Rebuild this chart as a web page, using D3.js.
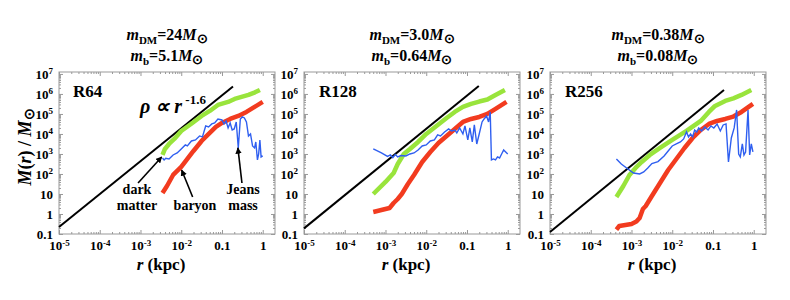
<!DOCTYPE html>
<html>
<head>
<meta charset="utf-8">
<script src="https://cdn.jsdelivr.net/npm/d3@7"></script>
<style>
  body { margin: 0; background: #fff; }
</style>
</head>
<body>
<svg width="790" height="300"></svg>
<script>
// all series are [log10 r (kpc), log10 M (Msun)]
const runNames = ["R64", "R128", "R256"];
const dmMass = ["24", "3.0", "0.38"];
const bMass = ["5.1", "0.64", "0.08"];

const rTicks = [1e-5, 1e-4, 1e-3, 1e-2, 0.1, 1];
const rTickLabels = [["10", "-5"], ["10", "-4"], ["10", "-3"], ["10", "-2"], ["0.1", ""], ["1", ""]];
const mTicks = [0.1, 1, 10, 1e2, 1e3, 1e4, 1e5, 1e6, 1e7];
const mTickLabels = [["0.1", ""], ["1", ""], ["10", ""], ["10", "2"], ["10", "3"], ["10", "4"], ["10", "5"], ["10", "6"], ["10", "7"]];

const powerLaw = [
  [[-5, -0.65], [-0.73, 6.37]],
  [[-5, -0.72], [-0.71, 6.4]],
  [[-5, -0.9], [-0.73, 6.2]]
];

const darkMatter = [
  [[-2.46, 2.95], [-2.40, 3.25], [-2.3, 3.5], [-2.17, 3.75], [-2.0, 4.15], [-1.76, 4.5], [-1.5, 4.9],
   [-1.3, 5.15], [-1.1, 5.45], [-0.85, 5.6], [-0.69, 5.75], [-0.52, 5.85], [-0.35, 5.95], [-0.19, 6.08], [-0.07, 6.2]],
  [[-3.30, 1.0], [-3.0, 1.6], [-2.8, 2.05], [-2.7, 2.5], [-2.55, 3.0], [-2.4, 3.25], [-2.2, 3.6], [-2.0, 4.0],
   [-1.75, 4.4], [-1.5, 4.8], [-1.3, 5.1], [-1.1, 5.35], [-0.9, 5.5], [-0.7, 5.62], [-0.5, 5.72], [-0.3, 5.95], [-0.07, 6.2]],
  [[-3.37, 0.85], [-3.2, 1.4], [-3.05, 1.95], [-2.9, 2.3], [-2.75, 2.6], [-2.55, 2.95], [-2.3, 3.3], [-2.0, 3.7],
   [-1.65, 4.15], [-1.3, 4.65], [-1.1, 5.1], [-0.95, 5.4], [-0.7, 5.65], [-0.5, 5.78], [-0.3, 5.95], [-0.06, 6.2]]
];

const baryon = [
  [[-2.46, 1.05], [-2.35, 1.4], [-2.2, 1.95], [-2.0, 2.35], [-1.85, 2.75], [-1.7, 3.15], [-1.5, 3.65], [-1.3, 4.05],
   [-1.15, 4.35], [-1.0, 4.55], [-0.8, 4.75], [-0.6, 4.9], [-0.4, 5.1], [-0.2, 5.35], [0.0, 5.6]],
  [[-3.30, 0.1], [-3.1, 0.2], [-2.9, 0.3], [-2.8, 0.55], [-2.7, 0.75], [-2.6, 1.0], [-2.45, 1.5], [-2.3, 1.95],
   [-2.1, 2.6], [-1.9, 3.1], [-1.7, 3.55], [-1.5, 3.9], [-1.3, 4.25], [-1.1, 4.6], [-0.9, 4.75], [-0.7, 4.85],
   [-0.5, 5.0], [-0.3, 5.25], [-0.03, 5.6]],
  [[-3.37, -0.78], [-3.3, -0.6], [-3.15, -0.55], [-3.0, -0.5], [-2.88, -0.38], [-2.8, -0.2], [-2.72, 0.25],
   [-2.65, 0.4], [-2.5, 0.9], [-2.3, 1.55], [-2.1, 2.2], [-1.9, 2.75], [-1.7, 3.3], [-1.5, 3.8], [-1.3, 4.2],
   [-1.1, 4.5], [-0.9, 4.65], [-0.7, 4.75], [-0.5, 4.87], [-0.3, 5.1], [-0.02, 5.5]]
];

const jeansMass = [
  [[-2.46, 2.8], [-2.42, 2.7], [-2.38, 2.78], [-2.3, 2.75], [-2.2, 2.95], [-2.1, 3.05], [-2.0, 3.25], [-1.9, 3.45],
   [-1.85, 3.4], [-1.75, 3.65], [-1.65, 3.7], [-1.55, 3.9], [-1.48, 3.85], [-1.4, 4.4], [-1.33, 4.35], [-1.25, 4.5],
   [-1.18, 4.55], [-1.1, 4.75], [-1.0, 4.7], [-0.95, 4.5], [-0.9, 4.65], [-0.85, 4.3], [-0.8, 4.55], [-0.75, 4.2],
   [-0.7, 4.25], [-0.65, 4.6], [-0.6, 3.3], [-0.55, 4.75], [-0.5, 4.85], [-0.45, 4.8], [-0.4, 4.6], [-0.35, 3.9],
   [-0.3, 4.0], [-0.25, 3.4], [-0.2, 3.3], [-0.17, 3.6], [-0.13, 2.7], [-0.1, 3.0], [-0.07, 3.7], [-0.04, 2.85], [0.0, 2.9]],
  [[-3.30, 3.25], [-3.1, 3.05], [-2.95, 2.88], [-2.88, 2.95], [-2.82, 2.82], [-2.76, 2.97], [-2.7, 2.85], [-2.62, 2.92],
   [-2.5, 2.9], [-2.4, 3.0], [-2.3, 3.05], [-2.2, 3.2], [-2.1, 3.4], [-2.0, 3.45], [-1.9, 3.65], [-1.8, 3.7],
   [-1.72, 3.95], [-1.65, 3.9], [-1.55, 4.1], [-1.45, 4.25], [-1.38, 4.15], [-1.3, 4.2], [-1.25, 4.05], [-1.18, 4.3],
   [-1.1, 4.0], [-1.05, 4.4], [-0.98, 3.7], [-0.93, 4.3], [-0.87, 3.6], [-0.82, 4.45], [-0.76, 3.5], [-0.7, 4.0],
   [-0.63, 4.6], [-0.58, 4.75], [-0.52, 4.9], [-0.47, 4.6], [-0.43, 5.1], [-0.40, 2.7], [-0.35, 2.75], [-0.3, 2.7],
   [-0.25, 2.85], [-0.2, 2.8], [-0.15, 3.0], [-0.1, 3.2], [-0.05, 3.1], [0.0, 3.0]],
  [[-3.37, 2.75], [-3.25, 2.5], [-3.12, 2.3], [-2.95, 2.05], [-2.8, 2.0], [-2.7, 2.1], [-2.6, 2.3], [-2.5, 2.52],
   [-2.35, 2.62], [-2.2, 2.9], [-2.1, 3.15], [-2.0, 3.4], [-1.9, 3.5], [-1.8, 3.6], [-1.72, 3.75], [-1.65, 4.1],
   [-1.6, 3.85], [-1.55, 4.0], [-1.5, 3.85], [-1.45, 4.2], [-1.4, 4.1], [-1.35, 4.3], [-1.28, 4.15], [-1.2, 4.35],
   [-1.12, 4.2], [-1.05, 4.4], [-0.98, 4.3], [-0.9, 4.5], [-0.82, 4.15], [-0.75, 4.45], [-0.68, 4.5], [-0.62, 2.6],
   [-0.55, 3.8], [-0.48, 4.3], [-0.42, 5.2], [-0.37, 3.0], [-0.33, 2.85], [-0.28, 3.5], [-0.24, 2.95], [-0.2, 3.1],
   [-0.14, 5.2], [-0.1, 2.95], [-0.06, 3.5], [-0.02, 3.1]]
];

// annotation arrows of the first panel, tail -> tip, same log units
const arrows = [
  [[-3.06, 1.55], [-2.48, 2.85]],
  [[-1.72, 0.85], [-1.99, 2.2]],
  [[-0.51, 1.55], [-0.61, 3.3]]
];

const FONT = "'Liberation Serif', 'Times New Roman', serif";
const svg = d3.select("svg");
const panelLeft = [59, 304, 550];
const plotTop = 72, W = 216, H = 162;

svg.append("defs").append("marker")
  .attr("id", "head")
  .attr("viewBox", "0 0 10 10")
  .attr("refX", 9).attr("refY", 5)
  .attr("markerWidth", 4).attr("markerHeight", 4)
  .attr("orient", "auto")
  .append("path").attr("d", "M0,0L10,5L0,10z").attr("fill", "#000");

const x = d3.scaleLog().domain([1e-5, 2]).range([0, W]);
const y = d3.scaleLog().domain([0.1, 1.25e7]).range([H, 0]);

const minorR = [];
for (let e = -5; e <= 0; e++) for (let k = 2; k <= 9; k++) if (k * Math.pow(10, e) < 2) minorR.push(k * Math.pow(10, e));
const minorM = [];
for (let e = -1; e <= 6; e++) for (let k = 2; k <= 9; k++) minorM.push(k * Math.pow(10, e));

function supLabels(sel, labels) {
  sel.selectAll(".tick text").each(function (d, i) {
    const t = d3.select(this).text(null);
    t.append("tspan").text(labels[i][0]);
    if (labels[i][1]) t.append("tspan").attr("dy", "-0.5em").style("font-size", "9px").text(labels[i][1]);
  });
}

function txt(parent, size) {
  return parent.append("text")
    .style("font-family", FONT).style("font-weight", "bold").style("font-size", size + "px").attr("fill", "#000");
}

function toPts(arr) { return arr.map(p => [Math.pow(10, p[0]), Math.pow(10, p[1])]); }

const line = d3.line().x(d => x(d[0])).y(d => y(d[1]));

runNames.forEach((name, pi) => {
  const g = svg.append("g").attr("transform", `translate(${panelLeft[pi]},${plotTop})`);

  // ticks, all drawn inward
  const gx = g.append("g").attr("transform", `translate(0,${H})`)
    .call(d3.axisBottom(x).tickValues(rTicks).tickSize(-4).tickPadding(7).tickFormat(() => ""));
  supLabels(gx, rTickLabels);
  g.append("g").attr("transform", `translate(0,${H})`)
    .call(d3.axisBottom(x).tickValues(minorR).tickSize(-2).tickFormat(() => ""));
  g.append("g").call(d3.axisTop(x).tickValues(rTicks).tickSize(-4).tickFormat(() => ""));
  g.append("g").call(d3.axisTop(x).tickValues(minorR).tickSize(-2).tickFormat(() => ""));

  const gy = g.append("g").call(d3.axisLeft(y).tickValues(mTicks).tickSize(-4).tickPadding(6).tickFormat(() => ""));
  supLabels(gy, mTickLabels);
  g.append("g").call(d3.axisLeft(y).tickValues(minorM).tickSize(-2).tickFormat(() => ""));
  g.append("g").attr("transform", `translate(${W},0)`)
    .call(d3.axisRight(y).tickValues(mTicks).tickSize(-4).tickFormat(() => ""));
  g.append("g").attr("transform", `translate(${W},0)`)
    .call(d3.axisRight(y).tickValues(minorM).tickSize(-2).tickFormat(() => ""));

  g.selectAll(".domain").remove();
  g.selectAll(".tick line").attr("stroke", "#999");
  g.selectAll(".tick text").style("font-size", "13px").style("font-family", FONT).style("font-weight", "bold").attr("fill", "#000");
  g.append("rect").attr("width", W).attr("height", H).attr("fill", "none").attr("stroke", "#999").attr("stroke-width", 1);

  g.append("path").datum(toPts(powerLaw[pi])).attr("d", line)
    .attr("fill", "none").attr("stroke", "#000").attr("stroke-width", 2);
  g.append("path").datum(toPts(darkMatter[pi])).attr("d", line)
    .attr("fill", "none").attr("stroke", "#99e43c").attr("stroke-width", 4.5).attr("stroke-linejoin", "round");
  g.append("path").datum(toPts(baryon[pi])).attr("d", line)
    .attr("fill", "none").attr("stroke", "#f23b1f").attr("stroke-width", 4.5).attr("stroke-linejoin", "round");
  g.append("path").datum(toPts(jeansMass[pi])).attr("d", line)
    .attr("fill", "none").attr("stroke", "#2f5ff0").attr("stroke-width", 1.4);

  txt(g, 17).attr("x", [14, 15, 15][pi]).attr("y", 25).text(name);

  const cx = W / 2;
  const t1 = txt(g, 16).attr("x", cx).attr("y", -32).attr("text-anchor", "middle");
  t1.append("tspan").style("font-style", "italic").text("m");
  t1.append("tspan").attr("dy", 4).style("font-size", "11px").text("DM");
  t1.append("tspan").attr("dy", -4).text("=" + dmMass[pi]);
  t1.append("tspan").style("font-style", "italic").text("M");
  t1.append("tspan").attr("dy", 3).style("font-size", "13px").text("\u2299");
  const t2 = txt(g, 16).attr("x", cx).attr("y", -11).attr("text-anchor", "middle");
  t2.append("tspan").style("font-style", "italic").text("m");
  t2.append("tspan").attr("dy", 4).style("font-size", "11px").text("b");
  t2.append("tspan").attr("dy", -4).text("=" + bMass[pi]);
  t2.append("tspan").style("font-style", "italic").text("M");
  t2.append("tspan").attr("dy", 3).style("font-size", "13px").text("\u2299");

  const xl = txt(g, 17).attr("x", cx - 6).attr("y", 198).attr("text-anchor", "middle");
  xl.append("tspan").style("font-style", "italic").text("r");
  xl.append("tspan").text(" (kpc)");

  if (pi === 0) {
    const yl = txt(svg, 18).attr("transform", "translate(31,147) rotate(-90)").attr("text-anchor", "middle");
    yl.append("tspan").style("font-style", "italic").text("M");
    yl.append("tspan").text("(");
    yl.append("tspan").style("font-style", "italic").text("r");
    yl.append("tspan").text(") / ");
    yl.append("tspan").style("font-style", "italic").text("M");
    yl.append("tspan").attr("dy", 3).style("font-size", "14px").text("\u2299");

    const pl = txt(g, 20).attr("x", 81).attr("y", 41);
    pl.append("tspan").style("font-style", "italic").text("\u03c1 \u221d r");
    pl.append("tspan").attr("dy", -9).style("font-size", "13px").text(" -1.6");

    arrows.forEach(a => {
      g.append("path").datum(toPts(a)).attr("d", line)
        .attr("stroke", "#000").attr("stroke-width", 1.6).attr("marker-end", "url(#head)");
    });

    const notes = [["dark", 78, 122], ["matter", 78, 138], ["baryon", 136, 138], ["Jeans", 184, 122], ["mass", 184, 138]];
    notes.forEach(n => {
      txt(g, 14).attr("x", n[1]).attr("y", n[2]).attr("text-anchor", "middle").text(n[0]);
    });
  }
});
</script>
</body>
</html>
